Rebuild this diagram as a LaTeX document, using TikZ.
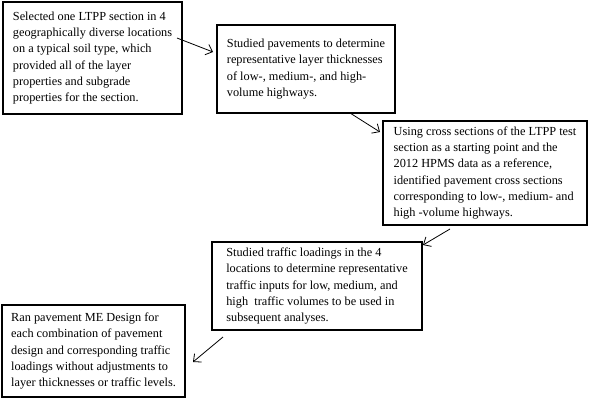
\documentclass[tikz,border=0pt]{standalone}
\usepackage{fontspec}
\setmainfont{Liberation Serif}
\usetikzlibrary{arrows.meta}

\begin{document}
\begin{tikzpicture}[x=1pt,y=-1pt,
  stage/.style={draw,line width=2.6pt,anchor=north west,outer sep=0pt,
    inner xsep=4pt,inner ysep=0pt,align=left,
    font=\fontsize{12.3}{16.2}\selectfont},
  flow/.style={line width=0.8pt,-{Straight Barb[length=6pt,width=11pt]}}]
  \useasboundingbox (0,0) rectangle (591,402);
  % the five steps
  \node[stage,minimum width=179pt,minimum height=112pt] (sel) at (3,2)
    {Selected one LTPP section in 4\\geographically diverse locations\\on a typical soil type, which\\provided all of the layer\\properties and subgrade\\properties for the section.};
  \node[stage,minimum width=178pt,minimum height=88pt] (thick) at (217,25)
    {Studied pavements to determine\\representative layer thicknesses\\of low-, medium-, and high-\\volume highways.};
  \node[stage,minimum width=204pt,minimum height=104pt] (cross) at (383,121)
    {Using cross sections of the LTPP test\\section as a starting point and the\\2012 HPMS data as a reference,\\identified pavement cross sections\\corresponding to low-, medium- and\\high -volume highways.};
  \node[stage,minimum width=210pt,minimum height=88pt] (traffic) at (212,242)
    {Studied traffic loadings in the 4\\locations to determine representative\\traffic inputs for low, medium, and\\high~ traffic volumes to be used in\\subsequent analyses.};
  \node[stage,minimum width=183pt,minimum height=92pt] (runme) at (2,305)
    {Ran pavement ME Design for\\each combination of pavement\\design and corresponding traffic\\loadings without adjustments to\\layer thicknesses or traffic levels.};
  % arrow ends
  \coordinate (a1) at ([shift={(-5pt,-36pt)}]sel.north east);
  \coordinate (b1) at ([shift={(-4pt,-27pt)}]thick.north west);
  \coordinate (a2) at ([shift={(-45pt,0pt)}]thick.south east);
  \coordinate (b2) at ([shift={(-3pt,-11pt)}]cross.north west);
  \coordinate (a3) at ([shift={(67pt,-4pt)}]cross.south west);
  \coordinate (b3) at ([shift={(1pt,-3pt)}]traffic.north east);
  \coordinate (a4) at ([shift={(11pt,-7pt)}]traffic.south west);
  \coordinate (b4) at ([shift={(8pt,-57pt)}]runme.north east);
  \path[flow]
    (a1) edge (b1)
    (a2) edge (b2)
    (a3) edge (b3)
    (a4) edge (b4);
\end{tikzpicture}
\end{document}
